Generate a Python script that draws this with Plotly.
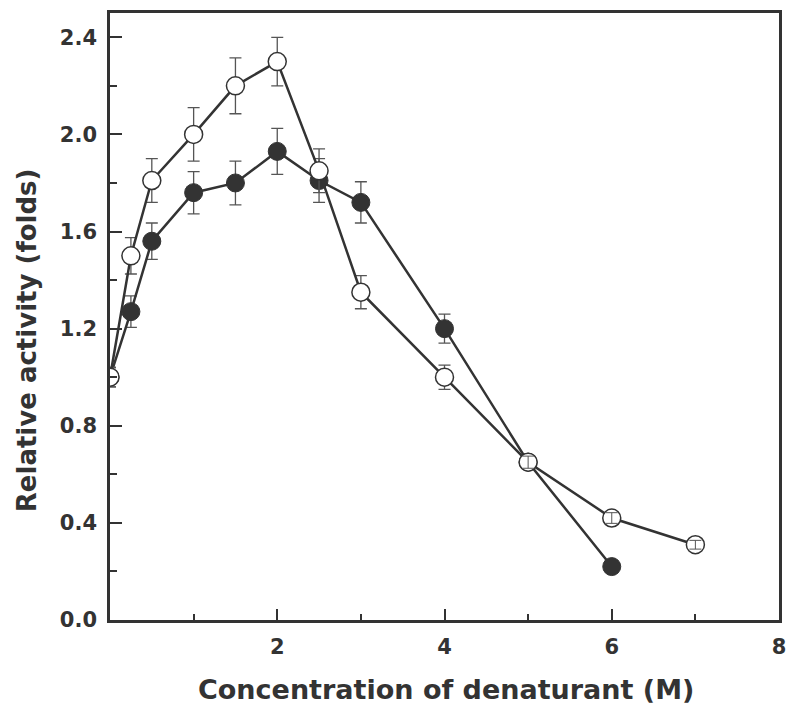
import plotly.graph_objects as go

# Denaturant concentration (M)
conc_open = [0, 0.25, 0.5, 1.0, 1.5, 2.0, 2.5, 3.0, 4.0, 5.0, 6.0, 7.0]
act_open = [1.00, 1.50, 1.81, 2.00, 2.20, 2.30, 1.85, 1.35, 1.00, 0.65, 0.42, 0.31]
err_open = [0.04, 0.075, 0.09, 0.11, 0.115, 0.10, 0.09, 0.068, 0.05, 0.025, 0.022, 0.018]

conc_filled = [0, 0.25, 0.5, 1.0, 1.5, 2.0, 2.5, 3.0, 4.0, 5.0, 6.0]
act_filled = [1.00, 1.27, 1.56, 1.76, 1.80, 1.93, 1.81, 1.72, 1.20, 0.65, 0.22]
err_filled = [0.04, 0.065, 0.075, 0.087, 0.09, 0.095, 0.09, 0.085, 0.06, 0.025, 0.0]

y_ticks = [0.0, 0.4, 0.8, 1.2, 1.6, 2.0, 2.4]
x_ticks = [2, 4, 6, 8]

ink = "#333333"
bar_ink = "#555555"
font = "DejaVu Sans, Verdana, sans-serif"

fig = go.Figure()

fig.add_trace(go.Scatter(
    x=conc_filled, y=act_filled, mode="lines+markers",
    line=dict(color=ink, width=2.5),
    marker=dict(symbol="circle", size=18, color=ink, line=dict(color=ink, width=1)),
    error_y=dict(type="data", array=err_filled, color=bar_ink, thickness=1.3, width=6),
    showlegend=False,
))

fig.add_trace(go.Scatter(
    x=conc_open, y=act_open, mode="lines+markers",
    line=dict(color=ink, width=2.5),
    marker=dict(symbol="circle", size=18, color="white", line=dict(color=ink, width=1.5)),
    error_y=dict(type="data", array=err_open, color=bar_ink, thickness=1.3, width=6),
    showlegend=False,
))

# Short error bars that fit inside an open circle stay visible on top of it
small = [i for i, e in enumerate(err_open) if 0 < e < 0.03]
fig.add_trace(go.Scatter(
    x=[conc_open[i] for i in small], y=[act_open[i] for i in small], mode="markers",
    marker=dict(size=1, opacity=0),
    error_y=dict(type="data", array=[err_open[i] for i in small], color=bar_ink, thickness=1, width=6),
    showlegend=False, hoverinfo="skip",
))

fig.update_layout(
    width=789, height=709,
    margin=dict(l=110, r=10, t=13, b=89),
    paper_bgcolor="white", plot_bgcolor="white",
    font=dict(family=font, color=ink),
    xaxis=dict(
        range=[0, 8], tickmode="array", tickvals=x_ticks, ticktext=[str(v) for v in x_ticks],
        ticks="inside", ticklen=11, tickwidth=2, tickcolor=ink,
        minor=dict(tickmode="array", tickvals=[1, 3, 5, 7], ticks="inside", ticklen=6, tickwidth=2, tickcolor=ink),
        showline=True, linecolor=ink, linewidth=2.5, mirror=True,
        showgrid=False, zeroline=False, automargin=False,
        tickfont=dict(size=21, family=font, color=ink, weight="bold"),
        ticklabelstandoff=6,
    ),
    yaxis=dict(
        range=[0, 2.5], tickmode="array", tickvals=y_ticks, ticktext=[f"{v:.1f}" for v in y_ticks],
        ticks="inside", ticklen=12, tickwidth=2, tickcolor=ink,
        minor=dict(tickmode="array", tickvals=[0.2, 0.6, 1.0, 1.4, 1.8, 2.2], ticks="inside", ticklen=7, tickwidth=2, tickcolor=ink),
        showline=True, linecolor=ink, linewidth=2.5, mirror=True,
        showgrid=False, zeroline=False, automargin=False,
        tickfont=dict(size=21, family=font, color=ink, weight="bold"),
        ticklabelstandoff=6,
    ),
)

# Horizontal axis title
fig.add_annotation(
    text="<b>Concentration of denaturant (M)</b>",
    xref="paper", yref="paper", x=0.502, y=0, xanchor="center", yanchor="middle",
    yshift=-69, showarrow=False,
    font=dict(size=27, family=font, color=ink),
)

# Vertical axis title, placed a little below the centre of the axis
fig.add_annotation(
    text="<b>Relative activity (folds)</b>", textangle=-90,
    xref="paper", yref="paper", x=0, y=0.461, xanchor="center", yanchor="middle",
    xshift=-83, showarrow=False,
    font=dict(size=26, family=font, color=ink),
)

fig.write_html("out.html")
